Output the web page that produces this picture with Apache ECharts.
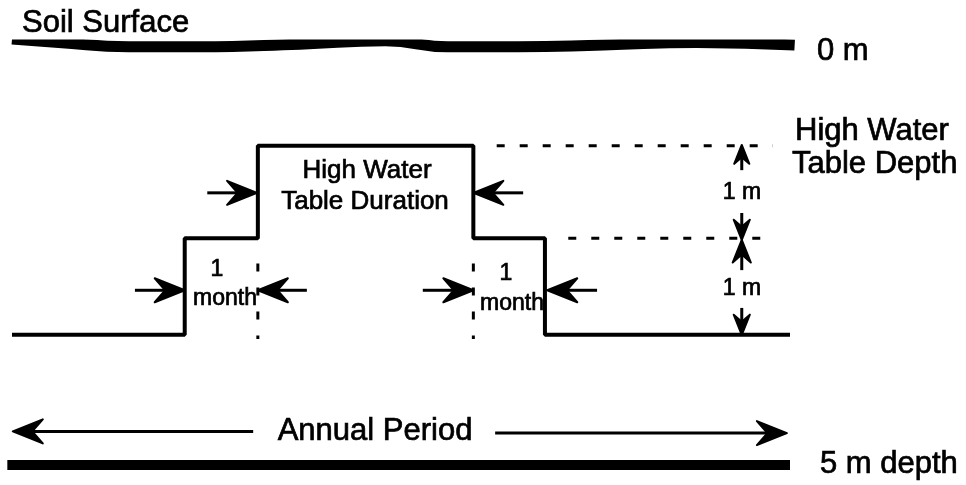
<!DOCTYPE html>
<html>
<head>
<meta charset="utf-8">
<script src="https://cdn.jsdelivr.net/npm/echarts@6/dist/echarts.min.js"></script>
<style>
html,body{margin:0;padding:0;background:#fff;}
#chart{width:966px;height:485px;}
</style>
</head>
<body>
<div id="chart"></div>
<script>
// x = position in the annual period (%), y = depth below soil surface (m)
var soilSurface = [[0,-0.07],[6,-0.03],[15,0.02],[24,0.02],[37,-0.01],[48,-0.05],[56,0.02],[65,0.02],[76,0],[88,-0.03],[100.6,0]];
var bottomLine = [[-0.6,5],[100,5]];
// water table: low -> 1 month rise -> high water table duration -> 1 month fall -> low
var waterTable = [[0,3.45],[22.2,3.45],[22.2,2.3],[31.6,2.3],[31.6,1.2],[59.3,1.2],[59.3,2.3],[68.5,2.3],[68.5,3.45],[100,3.45]];
var highDash = [[62.3,1.2],[97.8,1.2]];
var midDash = [[71.5,2.3],[97.8,2.3]];
var monthMarkLeft = [[31.6,2.6],[31.6,3.5]];
var monthMarkRight = [[59.3,2.6],[59.3,3.5]];
// arrows: [tailX, tailY, tipX, tipY]
var arrows = [
  [25.1,1.76,31.5,1.76],
  [65.7,1.76,59.3,1.76],
  [15.8,2.92,22.2,2.92],
  [37.9,2.92,31.6,2.92],
  [52.8,2.92,59.3,2.92],
  [75.2,2.92,68.8,2.92],
  [93.8,1.49,93.8,1.19],
  [93.8,2.0,93.8,2.32],
  [93.8,2.68,93.8,2.32],
  [93.8,3.13,93.8,3.45],
  [31,4.6,0.1,4.6],
  [62.1,4.62,99.6,4.62]
];

var FONT = '"Liberation Sans", Arial, Helvetica, sans-serif';
function txt(x, y, s, size, align){
  return {type:'text', x:x, y:y, z:100,
    style:{text:s, font:size + 'px ' + FONT, fill:'#000', stroke:'#000', lineWidth:0.7,
      align:align || 'left', verticalAlign:'middle'}};
}

function lineSeries(data, width, dash){
  return {type:'line', data:data, symbol:'none', silent:true, animation:false,
    lineStyle:{color:'#000', width:width, type:dash || 'solid', cap:'butt'}};
}

var option = {
  backgroundColor:'#fff',
  animation:false,
  grid:{left:12, right:176, top:45, bottom:20},
  xAxis:{type:'value', min:0, max:100, show:false},
  yAxis:{type:'value', min:0, max:5, inverse:true, show:false},
  series:[
    Object.assign(lineSeries(soilSurface, 11), {smooth:0.5}),
    lineSeries(bottomLine, 10),
    lineSeries(waterTable, 4),
    lineSeries(highDash, 3, [8,15]),
    lineSeries(midDash, 3, [8,15]),
    lineSeries(monthMarkLeft, 3, [8,16]),
    lineSeries(monthMarkRight, 3, [8,16]),
    {
      type:'custom',
      data:arrows,
      silent:true,
      encode:{x:[0,2], y:[1,3]},
      renderItem:function(params, api){
        var p0 = api.coord([api.value(0), api.value(1)]);
        var p1 = api.coord([api.value(2), api.value(3)]);
        var dx = p1[0]-p0[0], dy = p1[1]-p0[1];
        var len = Math.sqrt(dx*dx+dy*dy);
        var ux = dx/len, uy = dy/len, nx = -uy, ny = ux;
        var L = Math.min(30, len*0.75), W = L*0.4;
        var bx = p1[0]-ux*L, by = p1[1]-uy*L;
        var notch = [p1[0]-ux*L*0.65, p1[1]-uy*L*0.65];
        return {type:'group', children:[
          {type:'line', shape:{x1:p0[0], y1:p0[1], x2:notch[0], y2:notch[1]},
            style:{stroke:'#000', lineWidth:3}},
          {type:'polygon', shape:{points:[p1,[bx+nx*W, by+ny*W],notch,[bx-nx*W, by-ny*W]]},
            style:{fill:'#000', stroke:'#000', lineWidth:2, lineJoin:'round'}}
        ]};
      }
    }
  ],
  graphic:[
    txt(22, 23, 'Soil Surface', 31),
    txt(817, 51, '0 m', 31),
    txt(795, 131, 'High Water', 31),
    txt(792, 164, 'Table Depth', 31),
    txt(367, 171, 'High Water', 26, 'center'),
    txt(365, 202, 'Table Duration', 26, 'center'),
    txt(217, 270, '1', 23, 'center'),
    txt(225, 299, 'month', 23, 'center'),
    txt(506, 274, '1', 23, 'center'),
    txt(512, 304, 'month', 23, 'center'),
    txt(742, 193, '1 m', 23, 'center'),
    txt(742, 289, '1 m', 23, 'center'),
    txt(375, 431, 'Annual Period', 31, 'center'),
    txt(820, 464, '5 m depth', 31)
  ]
};

var chart = echarts.init(document.getElementById('chart'), null, {renderer:'canvas'});
chart.setOption(option);
</script>
</body>
</html>
